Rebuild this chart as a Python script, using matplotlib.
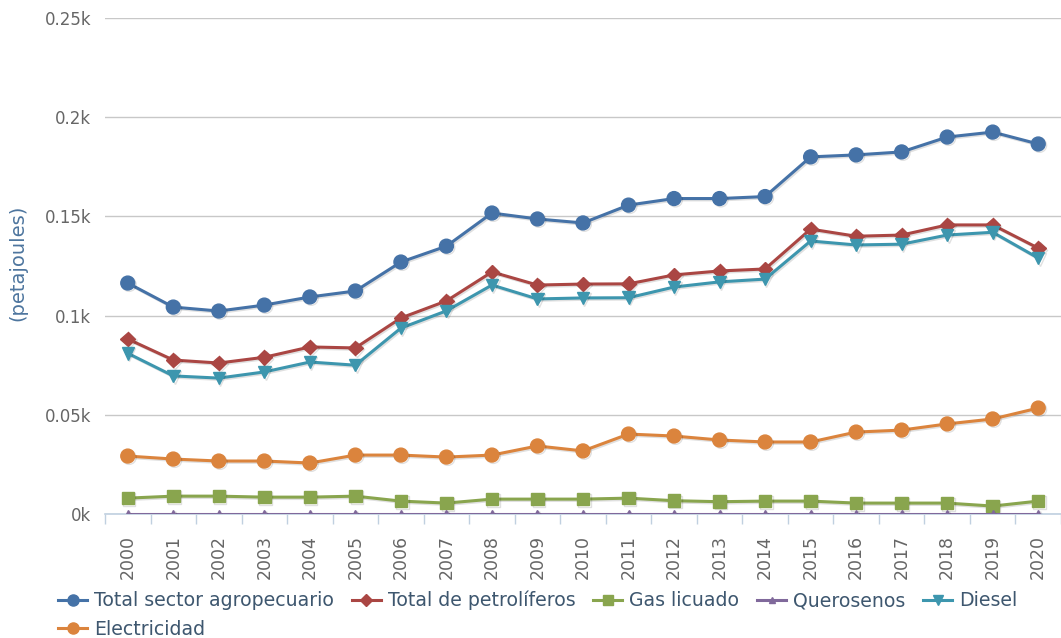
import matplotlib
matplotlib.use("Agg")
import matplotlib.pyplot as plt
import matplotlib.patheffects as pe

# data (petajoules)
years = [str(y) for y in range(2000, 2021)]

total_agro = [116.4, 104.3, 102.3, 105.3, 109.4, 112.4, 127.0, 135.0, 151.7, 148.7, 146.7,
              155.7, 159.0, 159.0, 160.0, 180.0, 181.0, 182.5, 190.0, 192.5, 186.5]
total_petro = [88.2, 77.6, 76.1, 79.0, 84.2, 83.7, 98.8, 107.4, 122.0, 115.4, 115.9,
               116.0, 120.5, 122.5, 123.5, 143.6, 140.0, 140.6, 145.7, 145.7, 134.0]
gas_licuado = [8.0, 9.0, 9.0, 8.5, 8.5, 9.0, 6.5, 5.5, 7.5, 7.5, 7.5,
               8.0, 6.7, 6.2, 6.5, 6.5, 5.5, 5.5, 5.5, 4.0, 6.5]
querosenos = [0.1] * 21
diesel = [81.0, 69.6, 68.5, 71.6, 76.6, 75.0, 93.7, 102.4, 115.4, 108.4, 108.9,
          109.0, 114.4, 117.0, 118.4, 137.6, 135.6, 136.0, 140.6, 142.0, 129.0]
electricidad = [29.2, 27.7, 26.7, 26.7, 25.7, 29.7, 29.7, 28.7, 29.7, 34.3, 31.8,
                40.3, 39.3, 37.3, 36.3, 36.3, 41.3, 42.3, 45.4, 47.9, 53.4]

series = [
    ("Total sector agropecuario", total_agro, "#4572A7", "o", 10),
    ("Total de petrolíferos", total_petro, "#AA4643", "D", 7.5),
    ("Gas licuado", gas_licuado, "#89A54E", "s", 9),
    ("Querosenos", querosenos, "#80699B", "^", 6),
    ("Diesel", diesel, "#3D96AE", "v", 9),
    ("Electricidad", electricidad, "#DB843D", "o", 10),
]

plt.rcParams['font.family'] = ['DejaVu Sans']

fig = plt.figure(figsize=(10.61, 6.38), dpi=100)
ax = fig.add_axes([105/1061, 124/638, 956/1061, 496/638])

x = list(range(len(years)))
handles = []
for name, vals, col, mk, ms in series:
    ln, = ax.plot(x, vals, color=col, lw=2.2, marker=mk, markersize=ms,
                  markeredgecolor=col, label=name, zorder=3,
                  path_effects=[pe.SimpleLineShadow(offset=(1, -1), alpha=0.12),
                                pe.Normal()])
    handles.append(ln)

ax.set_xlim(-0.5, 20.24)
ax.set_ylim(0, 250)
ax.set_yticks([0, 50, 100, 150, 200, 250])
ax.set_yticklabels(["0k", "0.05k", "0.1k", "0.15k", "0.2k", "0.25k"])
ax.tick_params(axis='y', length=0, pad=10, labelsize=12, labelcolor="#666666")
ax.grid(axis='y', color="#C8C8C8", lw=1)
ax.set_axisbelow(True)

# category labels at centers, tick marks at boundaries
ax.set_xticks(x)
ax.set_xticklabels(years, rotation=90, va='top')
ax.tick_params(axis='x', which='major', length=0, pad=15, labelsize=12.5, labelcolor="#666666")
ax.set_xticks([i + 0.5 for i in range(-1, 21)], minor=True)
ax.tick_params(axis='x', which='minor', length=7, color="#C0D0E0", width=1)

for s in ['top', 'right', 'left']:
    ax.spines[s].set_visible(False)
ax.spines['bottom'].set_color("#C0D0E0")
ax.spines['bottom'].set_linewidth(1.2)

fig.text(18/1061, 1 - 263/638, "(petajoules)", rotation=90, color="#4D759E",
         fontsize=14, ha='center', va='center')

# legend: first row five items, Electricidad wraps beneath the first
order = [handles[0], handles[5], handles[1], handles[2], handles[3], handles[4]]
leg = fig.legend(handles=order, labels=[h.get_label() for h in order], ncol=5,
                 loc='upper left', bbox_to_anchor=(58/1061, 1 - 591/638),
                 frameon=False, fontsize=13.6, handlelength=1.55, handletextpad=0.35,
                 columnspacing=0.95, labelspacing=0.5, borderpad=0, borderaxespad=0,
                 markerscale=0.8)
for t in leg.get_texts():
    t.set_color("#3E576F")
for lh in leg.legend_handles:
    lh.set_path_effects([])

fig.savefig("out.png", dpi=100)
